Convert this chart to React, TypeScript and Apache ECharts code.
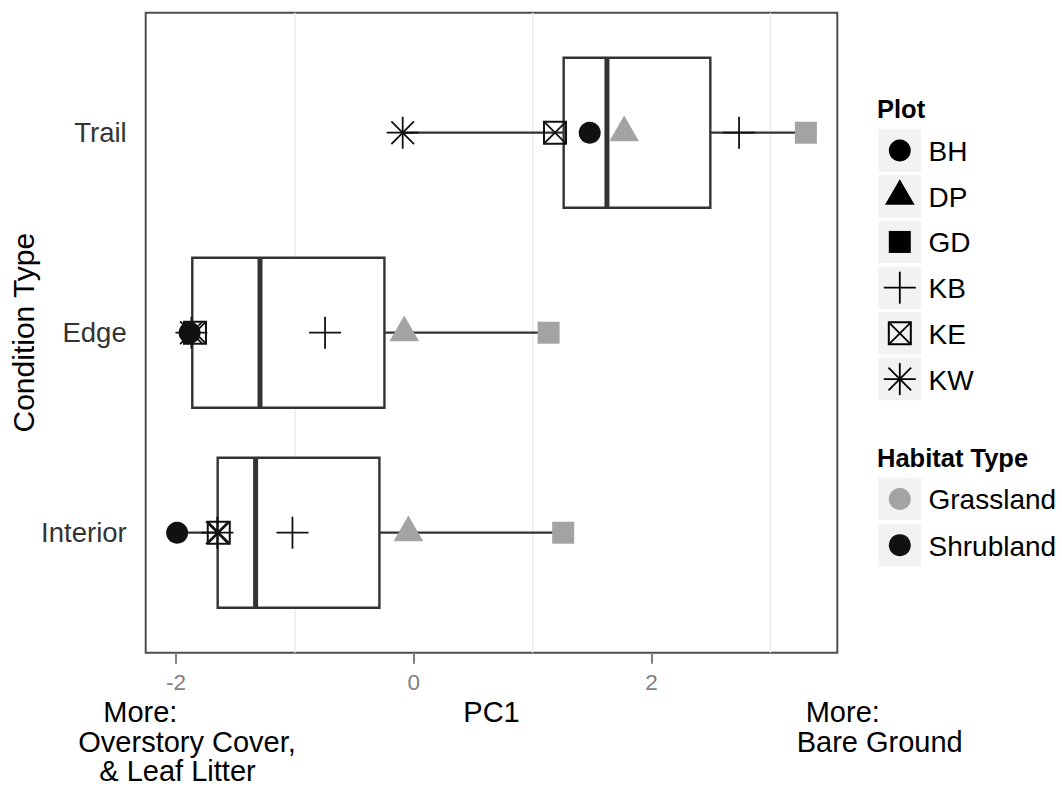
import React, { useEffect, useRef } from "react";
import * as echarts from "echarts";

// ---------- data ----------
const conditions = ["Interior", "Edge", "Trail"];
const conditionValues = [1, 2, 3];
const plots = ["BH", "DP", "GD", "KB", "KE", "KW"];
const plotHabitat = ["Shrubland", "Grassland", "Grassland", "Shrubland", "Shrubland", "Shrubland"];
const habitats = ["Grassland", "Shrubland"];
const habitatColors = ["#A3A3A3", "#111111"];
// PC1 score of each plot, in the order of conditions (Interior, Edge, Trail)
const bhPC1 = [-1.99, -1.885, 1.48];
const dpPC1 = [-0.045, -0.08, 1.77];
const gdPC1 = [1.257, 1.134, 3.298];
const kbPC1 = [-1.02, -0.746, 2.736];
const kePC1 = [-1.64, -1.84, 1.188];
const kwPC1 = [-1.652, -1.87, -0.093];
const xTickValues = [-2, 0, 2];
const xGridValues = [-1, 1, 3];

const plotScores = [bhPC1, dpPC1, gdPC1, kbPC1, kePC1, kwPC1];

// ---------- helpers ----------
const FONT = "'Liberation Sans', Arial, Helvetica, sans-serif";
const BOX_COLOR = "#333333";

function quantile(sorted: number[], p: number) {
  const h = (sorted.length - 1) * p;
  const lo = Math.floor(h);
  const hi = Math.ceil(h);
  return sorted[lo] + (h - lo) * (sorted[hi] - sorted[lo]);
}

function boxStats(values: number[]) {
  const s = [...values].sort((a, b) => a - b);
  const q1 = quantile(s, 0.25);
  const med = quantile(s, 0.5);
  const q3 = quantile(s, 0.75);
  const iqr = q3 - q1;
  const lo = Math.min(...s.filter((v) => v >= q1 - 1.5 * iqr));
  const hi = Math.max(...s.filter((v) => v <= q3 + 1.5 * iqr));
  return [lo, q1, med, q3, hi];
}

function seg(x1: number, y1: number, x2: number, y2: number, color: string, w: number) {
  return { type: "line", shape: { x1, y1, x2, y2 }, style: { stroke: color, lineWidth: w } };
}

function marker(plot: string, cx: number, cy: number, color: string): any[] {
  const r = 11;
  switch (plot) {
    case "BH":
      return [{ type: "circle", shape: { cx, cy, r }, style: { fill: color } }];
    case "DP": {
      const R = 1.5551 * r, w = 1.3468 * r, b = 0.7776 * r;
      return [{ type: "polygon", shape: { points: [[cx, cy - R], [cx + w, cy + b], [cx - w, cy + b]] }, style: { fill: color } }];
    }
    case "GD":
      return [{ type: "rect", shape: { x: cx - r, y: cy - r, width: 2 * r, height: 2 * r }, style: { fill: color } }];
    case "KB": {
      const a = 16;
      return [seg(cx - a, cy, cx + a, cy, color, 1.8), seg(cx, cy - a, cx, cy + a, color, 1.8)];
    }
    case "KE": {
      const h = 11;
      return [
        { type: "rect", shape: { x: cx - h, y: cy - h, width: 2 * h, height: 2 * h }, style: { fill: "none", stroke: color, lineWidth: 2 } },
        seg(cx - h, cy - h, cx + h, cy + h, color, 1.8),
        seg(cx + h, cy - h, cx - h, cy + h, color, 1.8),
      ];
    }
    case "KW": {
      const a = 16, d = 16 / Math.SQRT2;
      return [
        seg(cx - a, cy, cx + a, cy, color, 1.8),
        seg(cx, cy - a, cx, cy + a, color, 1.8),
        seg(cx - d, cy - d, cx + d, cy + d, color, 1.8),
        seg(cx + d, cy - d, cx - d, cy + d, color, 1.8),
      ];
    }
  }
  return [];
}

function colorOfPlot(i: number) {
  return habitatColors[habitats.indexOf(plotHabitat[i])];
}

function buildOption() {
  const all = plotScores.flat();
  const dmin = Math.min(...all);
  const dmax = Math.max(...all);
  const pad = 0.05 * (dmax - dmin);

  const boxData = conditions.map((c, ci) => {
    const vals = plotScores.map((p) => p[ci]);
    return [conditionValues[ci], ...boxStats(vals)];
  });

  const series: any[] = [];
  series.push({
    type: "custom",
    name: "grid",
    silent: true,
    data: xGridValues.map((v) => [v]),
    encode: { x: 0 },
    renderItem: (params: any, api: any) => {
      const v = api.value(0);
      const p1 = api.coord([v, 0.4]);
      const p2 = api.coord([v, 3.6]);
      return seg(p1[0], p1[1], p2[0], p2[1], "#EBEBEB", 1.5);
    },
    z: 1,
  });
  series.push({
    type: "custom",
    name: "box",
    silent: true,
    data: boxData,
    encode: { y: 0, x: [1, 2, 3, 4, 5] },
    renderItem: (params: any, api: any) => {
      const y = api.value(0);
      const lo = api.coord([api.value(1), y]);
      const q1 = api.coord([api.value(2), y]);
      const md = api.coord([api.value(3), y]);
      const q3 = api.coord([api.value(4), y]);
      const hi = api.coord([api.value(5), y]);
      const half = api.size([0, 0.75])[1] / 2;
      return {
        type: "group",
        children: [
          seg(lo[0], lo[1], q1[0], q1[1], BOX_COLOR, 2.2),
          seg(q3[0], q3[1], hi[0], hi[1], BOX_COLOR, 2.2),
          {
            type: "rect",
            shape: { x: q1[0], y: q1[1] - half, width: q3[0] - q1[0], height: 2 * half },
            style: { fill: "#FFFFFF", stroke: BOX_COLOR, lineWidth: 2.4 },
          },
          seg(md[0], md[1] - half, md[0], md[1] + half, BOX_COLOR, 5),
        ],
      };
    },
    z: 2,
  });
  plots.forEach((plot, pi) => {
    series.push({
      type: "custom",
      name: plot,
      silent: true,
      data: plotScores[pi].map((v, ci) => [v, conditionValues[ci]]),
      encode: { x: 0, y: 1 },
      renderItem: (params: any, api: any) => {
        const p = api.coord([api.value(0), api.value(1)]);
        return { type: "group", children: marker(plot, p[0], p[1], colorOfPlot(pi)) };
      },
      z: 3,
    });
  });

  // legends and annotations
  const graphic: any[] = [];
  const keyX = 878.3, keyW = 43, keyH = 42.5, stride = 45.7, labelX = 928.5;
  graphic.push({ type: "text", x: 877, y: 109, style: { text: "Plot", fontSize: 25.5, fontWeight: "bold", fontFamily: FONT, fill: "#000", verticalAlign: "middle" } });
  plots.forEach((plot, i) => {
    const top = 129.3 + i * stride;
    const cy = top + keyH / 2;
    const cx = keyX + keyW / 2;
    graphic.push({ type: "rect", shape: { x: keyX, y: top, width: keyW, height: keyH }, style: { fill: "#F2F2F2" } });
    graphic.push({ type: "group", children: marker(plot, cx, cy, "#000000") });
    graphic.push({ type: "text", x: labelX, y: cy + 1, style: { text: plot, fontSize: 28, fontFamily: FONT, fill: "#000", verticalAlign: "middle" } });
  });
  graphic.push({ type: "text", x: 877, y: 458, style: { text: "Habitat Type", fontSize: 25.5, fontWeight: "bold", fontFamily: FONT, fill: "#000", verticalAlign: "middle" } });
  habitats.forEach((h, i) => {
    const top = 477.7 + i * 46.2;
    const cy = top + keyH / 2;
    const cx = keyX + keyW / 2;
    graphic.push({ type: "rect", shape: { x: keyX, y: top, width: keyW, height: keyH }, style: { fill: "#F2F2F2" } });
    graphic.push({ type: "circle", shape: { cx, cy, r: 11 }, style: { fill: habitatColors[i] } });
    graphic.push({ type: "text", x: labelX, y: cy + 1, style: { text: h, fontSize: 28, fontFamily: FONT, fill: "#000", verticalAlign: "middle" } });
  });
  // axis titles
  graphic.push({ type: "text", x: 491.5, y: 712, style: { text: "PC1", fontSize: 29, fontFamily: FONT, fill: "#000", align: "center", verticalAlign: "middle" } });
  graphic.push({ type: "text", x: 23, y: 332.7, rotation: Math.PI / 2, style: { text: "Condition Type", fontSize: 30, fontFamily: FONT, fill: "#000", align: "center", verticalAlign: "middle" } });
  // bottom annotations
  const ann = [
    { t: "More:", x: 103.3, y: 712 },
    { t: "Overstory Cover,", x: 78.3, y: 742 },
    { t: "& Leaf Litter", x: 99.3, y: 771 },
    { t: "More:", x: 805.7, y: 712 },
    { t: "Bare Ground", x: 796.7, y: 742 },
  ];
  ann.forEach((a) =>
    graphic.push({ type: "text", x: a.x, y: a.y, style: { text: a.t, fontSize: 29, fontFamily: FONT, fill: "#000", verticalAlign: "middle" } })
  );

  return {
    animation: false,
    backgroundColor: "#FFFFFF",
    grid: {
      left: 145.7,
      top: 12.7,
      width: 691.6,
      height: 640,
      show: true,
      borderColor: "#4D4D4D",
      borderWidth: 2,
      backgroundColor: "#FFFFFF",
      containLabel: false,
    },
    xAxis: {
      type: "value",
      min: dmin - pad,
      max: dmax + pad,
      axisLine: { show: false },
      splitLine: { show: false },
      axisTick: { show: true, customValues: xTickValues, length: 11, lineStyle: { color: "#7F7F7F", width: 2 } },
      axisLabel: { customValues: xTickValues, color: "#7F7F7F", fontSize: 22.5, fontFamily: FONT, margin: 18 },
    },
    yAxis: {
      type: "value",
      min: 0.4,
      max: 3.6,
      axisLine: { show: false },
      splitLine: { show: false },
      axisTick: { show: true, customValues: conditionValues, length: 12, lineStyle: { color: "#4D4D4D", width: 2 } },
      axisLabel: {
        customValues: conditionValues,
        formatter: (v: number) => conditions[Math.round(v) - 1],
        color: "#333333",
        fontSize: 27.5,
        fontFamily: FONT,
        margin: 19,
      },
    },
    series,
    graphic,
  };
}

export default function App() {
  const ref = useRef<HTMLDivElement>(null);
  useEffect(() => {
    if (!ref.current) return;
    const chart = echarts.init(ref.current, undefined, { renderer: "svg" });
    chart.setOption(buildOption() as any);
    return () => chart.dispose();
  }, []);
  return <div ref={ref} style={{ position: "fixed", left: 0, top: 0, width: 1062, height: 787, background: "#fff" }} />;
}
